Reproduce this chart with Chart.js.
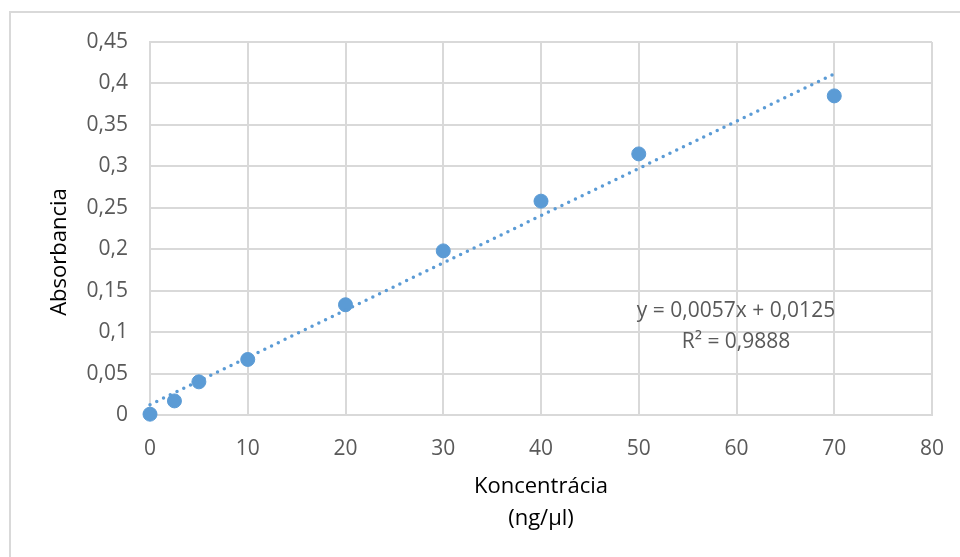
<!DOCTYPE html>
<html>
<head>
<meta charset="utf-8">
<script src="https://cdn.jsdelivr.net/npm/chart.js@4/dist/chart.umd.min.js"></script>
<style>
  html, body { margin: 0; padding: 0; background: #fff; }
  canvas { display: block; }
</style>
</head>
<body>
<canvas id="calib-chart" width="960" height="557"></canvas>
<script>
// measured points
const concentration = [0, 2.5, 5, 10, 20, 30, 40, 50, 70];
const absorbance = [0.001, 0.017, 0.040, 0.067, 0.133, 0.198, 0.258, 0.315, 0.385];

// trendline ends
const trendX = [0, 70];
const trendY = [0.0125, 0.4115];

const yTickLabels = ['0', '0,05', '0,1', '0,15', '0,2', '0,25', '0,3', '0,35', '0,4', '0,45'];
const xTickLabels = ['0', '10', '20', '30', '40', '50', '60', '70', '80'];

const xTitle = ['Koncentrácia', '(ng/µl)'];
const yTitle = 'Absorbancia';
const equation = ['y = 0,0057x + 0,0125', 'R² = 0,9888'];

const blue = '#5b9bd5';
const gridGray = '#d9d9d9';
const tickGray = '#595959';
const fontFamily = '"Open Sans", sans-serif';

// outer frame + y title + equation label
const extras = {
  id: 'extras',
  beforeDraw(chart) {
    const ctx = chart.ctx;
    ctx.save();
    ctx.strokeStyle = gridGray;
    ctx.lineWidth = 2;
    ctx.beginPath();
    ctx.moveTo(10, 557);
    ctx.lineTo(10, 12);
    ctx.lineTo(960, 12);
    ctx.stroke();
    ctx.restore();
  },
  afterDraw(chart) {
    const ctx = chart.ctx;
    ctx.save();
    ctx.fillStyle = '#000';
    ctx.font = '22px ' + fontFamily;
    ctx.textAlign = 'center';
    ctx.textBaseline = 'middle';
    ctx.translate(60, 252);
    ctx.rotate(-Math.PI / 2);
    ctx.fillText(yTitle, 0, 0);
    ctx.restore();

    ctx.save();
    ctx.fillStyle = tickGray;
    ctx.font = '21px ' + fontFamily;
    ctx.textAlign = 'center';
    ctx.textBaseline = 'middle';
    equation.forEach((line, i) => ctx.fillText(line, 736, 311 + i * 31));
    ctx.restore();
  }
};

new Chart(document.getElementById('calib-chart'), {
  type: 'scatter',
  data: {
    datasets: [
      {
        label: 'Trend',
        type: 'line',
        data: trendX.map((x, i) => ({ x, y: trendY[i] })),
        borderColor: blue,
        borderWidth: 3.5,
        borderDash: [0, 7.5],
        borderCapStyle: 'round',
        pointRadius: 0,
        fill: false,
        clip: false,
        order: 0,
      },
      {
        label: 'Absorbancia',
        data: concentration.map((x, i) => ({ x, y: absorbance[i] })),
        backgroundColor: blue,
        borderColor: blue,
        pointRadius: 7,
        pointHoverRadius: 7,
        clip: false,
        order: 1,
      },
    ],
  },
  options: {
    responsive: false,
    animation: false,
    devicePixelRatio: 1,
    layout: { padding: { top: 42, right: 28, left: 0, bottom: 0 } },
    plugins: {
      legend: { display: false },
      tooltip: { enabled: false },
    },
    scales: {
      x: {
        type: 'linear',
        min: 0,
        max: 80,
        afterFit: (scale) => {
          scale.height = 142;
          scale.paddingLeft = 0;
          scale.paddingRight = 0;
        },
        ticks: {
          stepSize: 10,
          padding: 21,
          color: tickGray,
          font: { family: fontFamily, size: 21 },
          callback: (v, i) => xTickLabels[i],
        },
        grid: { color: gridGray, lineWidth: 2, drawTicks: false },
        border: { color: gridGray, width: 2 },
        title: {
          display: true,
          text: xTitle,
          color: '#000',
          font: { family: fontFamily, size: 22, lineHeight: 1.45 },
          padding: { top: 0, bottom: 22 },
        },
      },
      y: {
        min: 0,
        max: 0.45,
        afterFit: (scale) => { scale.width = 150; },
        ticks: {
          stepSize: 0.05,
          padding: 22,
          color: tickGray,
          font: { family: fontFamily, size: 21 },
          callback: (v, i) => yTickLabels[i],
        },
        grid: { color: gridGray, lineWidth: 2, drawTicks: false },
        border: { color: gridGray, width: 2 },
      },
    },
  },
  plugins: [extras],
});
</script>
</body>
</html>
